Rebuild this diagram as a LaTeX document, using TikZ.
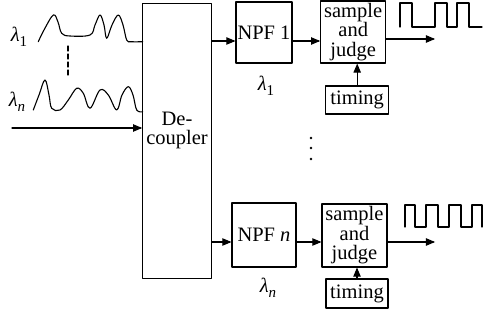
\documentclass[tikz,border=0pt]{standalone}
\usepackage{fontspec}
\setmainfont{Liberation Serif}
\newfontfamily\tnr{Liberation Serif}
\usetikzlibrary{arrows}
\newcommand{\lam}[1]{\textit{λ}\raisebox{-0.5ex}{\fontsize{15}{15}\selectfont #1}}

\begin{document}
\begin{tikzpicture}[line cap=round,line join=round,>=triangle 45,x=1pt,y=-1pt,
	blk/.style={draw,line width=1.2pt,inner sep=0pt,align=center,font=\tnr\fontsize{20.5}{19.5}\selectfont},
	lbl/.style={inner sep=0pt,font=\tnr\fontsize{20.5}{20}\selectfont},
	sig/.style={line width=1.1pt}]
	\useasboundingbox (0,0) rectangle (487,320);
	%blocs
	\node[blk,minimum width=68.6pt,minimum height=275.4pt] (dec) at (177,141) {De-\\coupler\\[6pt]};
	\node[blk,minimum width=56pt,minimum height=61pt] (npf1) at (264,32.5) {NPF 1};
	\node[blk,minimum width=65pt,minimum height=62pt] (sj1) at (353.2,32) {sample\\and\\judge};
	\node[blk,minimum width=63pt,minimum height=28pt] (tim1) at (357.2,100) {timing};
	\node[blk,minimum width=64pt,minimum height=64pt] (npfn) at (264,235) {NPF \textit{n}};
	\node[blk,minimum width=65pt,minimum height=63pt] (sjn) at (354.5,235.5) {sample\\and\\judge};
	\node[blk,minimum width=62pt,minimum height=29pt] (timn) at (357,293.5) {timing};
	%etiquettes
	\node[lbl] (l1) at (19,37) {\lam{1}};
	\node[lbl] (ln) at (17,102) {\lam{\textit{n}}};
	\node[lbl] (lf1) at (266,86) {\lam{1}};
	\node[lbl] (lfn) at (268,288) {\lam{\textit{n}}};
	%liaisons
	\coordinate (r1) at (0,41);
	\coordinate (rn) at (0,242);
	\coordinate (in) at (12,128);
	\coordinate (o1) at (435,39);
	\coordinate (on) at (435,242);
	\draw[->,line width=1.1pt] (in) -- (dec.west |- in);
	\draw[->,line width=1.1pt] (dec.east |- r1) -- (npf1.west |- r1);
	\draw[->,line width=1.1pt] (npf1.east |- r1) -- (sj1.west |- r1);
	\draw[->,line width=1.1pt] (sj1.east |- o1) -- (o1);
	\draw[->,line width=1.1pt] (tim1.north) -- (tim1.north |- sj1.south);
	\draw[->,line width=1.1pt] (dec.east |- rn) -- (npfn.west |- rn);
	\draw[->,line width=1.1pt] (npfn.east |- rn) -- (sjn.west |- rn);
	\draw[->,line width=1.1pt] (sjn.east |- on) -- (on);
	\draw[->,line width=1.1pt] (timn.north) -- (timn.north |- sjn.south);
	%signaux
	\draw[sig] plot[smooth,tension=0.6] coordinates {(38.3,41.7) (44,30) (53.3,15) (58,22) (61.7,33.3) (70,36) (90,35) (95,25) (100,15) (104,25) (106.7,38.3) (112,25) (118.3,15) (123,25) (126.7,40) (131,41.7) (142.7,41.7)};
	\draw[sig] plot[smooth,tension=0.6] coordinates {(33.3,110) (39,95) (45,80) (49,95) (51.7,108.3) (60,110) (68.3,100) (76.7,88.3) (83.3,93.3) (90,108.3) (100,90) (108.3,95) (116.7,110) (122,95) (128.3,86.7) (133,95) (136.7,110) (142.7,111.7)};
	\draw[line width=1.1pt,dash pattern=on 5pt off 3pt] (68,46) -- (68,77);
	\draw[sig] (400,27) -- (400,3) -- (412,3) -- (412,27) -- (435,27) -- (435,3) -- (447,3) -- (447,27) -- (457,27) -- (457,3) -- (469,3) -- (469,27) -- (482,27);
	\draw[sig] (405,227) -- (405,205) -- (415,205) -- (415,227) -- (426,227) -- (426,205) -- (438,205) -- (438,227) -- (449,227) -- (449,205) -- (461,205) -- (461,227) -- (472,227) -- (472,205) -- (482,205) -- (482,227);
	%points
	\foreach \y in {138,148,159}
		\fill (311,\y) circle (1.3);
\end{tikzpicture}
\end{document}
